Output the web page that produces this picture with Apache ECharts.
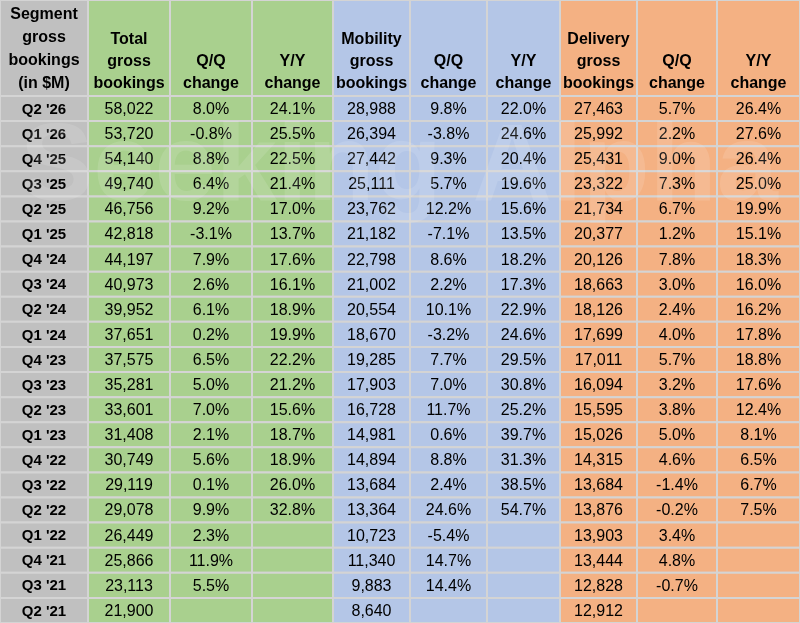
<!DOCTYPE html>
<html><head><meta charset="utf-8">
<script src="https://cdn.jsdelivr.net/npm/echarts@6/dist/echarts.min.js"></script>
<style>html,body{margin:0;padding:0}#c{width:800px;height:623px}</style>
</head><body><div id="c"></div>
<script>
const headers = ["Segment\ngross\nbookings\n(in $M)","Total\ngross\nbookings","Q/Q\nchange","Y/Y\nchange","Mobility\ngross\nbookings","Q/Q\nchange","Y/Y\nchange","Delivery\ngross\nbookings","Q/Q\nchange","Y/Y\nchange"];
const quarters = ["Q2 '26","Q1 '26","Q4 '25","Q3 '25","Q2 '25","Q1 '25","Q4 '24","Q3 '24","Q2 '24","Q1 '24","Q4 '23","Q3 '23","Q2 '23","Q1 '23","Q4 '22","Q3 '22","Q2 '22","Q1 '22","Q4 '21","Q3 '21","Q2 '21"];
const totalGB = ["58,022","53,720","54,140","49,740","46,756","42,818","44,197","40,973","39,952","37,651","37,575","35,281","33,601","31,408","30,749","29,119","29,078","26,449","25,866","23,113","21,900"];
const totalQQ = ["8.0%","-0.8%","8.8%","6.4%","9.2%","-3.1%","7.9%","2.6%","6.1%","0.2%","6.5%","5.0%","7.0%","2.1%","5.6%","0.1%","9.9%","2.3%","11.9%","5.5%",""];
const totalYY = ["24.1%","25.5%","22.5%","21.4%","17.0%","13.7%","17.6%","16.1%","18.9%","19.9%","22.2%","21.2%","15.6%","18.7%","18.9%","26.0%","32.8%","","","",""];
const mobGB = ["28,988","26,394","27,442","25,111","23,762","21,182","22,798","21,002","20,554","18,670","19,285","17,903","16,728","14,981","14,894","13,684","13,364","10,723","11,340","9,883","8,640"];
const mobQQ = ["9.8%","-3.8%","9.3%","5.7%","12.2%","-7.1%","8.6%","2.2%","10.1%","-3.2%","7.7%","7.0%","11.7%","0.6%","8.8%","2.4%","24.6%","-5.4%","14.7%","14.4%",""];
const mobYY = ["22.0%","24.6%","20.4%","19.6%","15.6%","13.5%","18.2%","17.3%","22.9%","24.6%","29.5%","30.8%","25.2%","39.7%","31.3%","38.5%","54.7%","","","",""];
const delGB = ["27,463","25,992","25,431","23,322","21,734","20,377","20,126","18,663","18,126","17,699","17,011","16,094","15,595","15,026","14,315","13,684","13,876","13,903","13,444","12,828","12,912"];
const delQQ = ["5.7%","2.2%","9.0%","7.3%","6.7%","1.2%","7.8%","3.0%","2.4%","4.0%","5.7%","3.2%","3.8%","5.0%","4.6%","-1.4%","-0.2%","3.4%","4.8%","-0.7%",""];
const delYY = ["26.4%","27.6%","26.4%","25.0%","19.9%","15.1%","18.3%","16.0%","16.2%","17.8%","18.8%","17.6%","12.4%","8.1%","6.5%","6.7%","7.5%","","","",""];

const columns = [quarters,totalGB,totalQQ,totalYY,mobGB,mobQQ,mobYY,delGB,delQQ,delYY];
const colEdges = [0,88,170,252,333,410,487,560,637,717,800];
const headerH = 96, rowH = (623-96)/21;
const colors = ["#c0c0c0","#a9d08e","#a9d08e","#a9d08e","#b4c6e7","#b4c6e7","#b4c6e7","#f4b183","#f4b183","#f4b183"];

const data = [];
headers.forEach((h,c)=>data.push([c,-1,h]));
columns.forEach((col,c)=>col.forEach((v,r)=>data.push([c,r,v])));

function renderItem(params, api){
  const c = api.value(0), r = api.value(1), txt = data[params.dataIndex][2];
  const y0 = r<0 ? 0 : headerH + r*rowH, y1 = r<0 ? headerH : headerH+(r+1)*rowH;
  const p0 = api.coord([colEdges[c], y0]), p1 = api.coord([colEdges[c+1], y1]);
  const bold = r<0 || c===0;
  return {type:'group',children:[
    {type:'rect',shape:{x:p0[0],y:p0[1],width:p1[0]-p0[0],height:p1[1]-p0[1]},
     style:{fill:colors[c],stroke:'#d4d4d4',lineWidth:2}},
    {type:'text',style:{text:txt,x:(p0[0]+p1[0])/2,y:r<0?p1[1]-1:(p0[1]+p1[1])/2+1,
      align:'center',verticalAlign:r<0?'bottom':'middle',
      font:(bold?'bold ':'')+(r<0?'16px':(c===0?'15px':'16px'))+' Arial, "Liberation Sans", sans-serif',
      lineHeight:r<0?(c===0?23:22):18,fill:'#000'}}
  ]};
}
const chart = echarts.init(document.getElementById('c'));
chart.setOption({
  animation:false,
  grid:{left:0,right:0,top:0,bottom:0},
  xAxis:{type:'value',min:0,max:800,show:false},
  yAxis:{type:'value',min:0,max:623,inverse:true,show:false},
  series:[{type:'custom',renderItem:renderItem,data:data.map(d=>[d[0],d[1]])}],
  graphic:[{type:'text',left:20,top:115,z:100,style:{text:'Seeking Alpha',font:'bold 110px Arial, sans-serif',fill:'rgba(255,255,255,0.12)'}}]
});
</script></body></html>
